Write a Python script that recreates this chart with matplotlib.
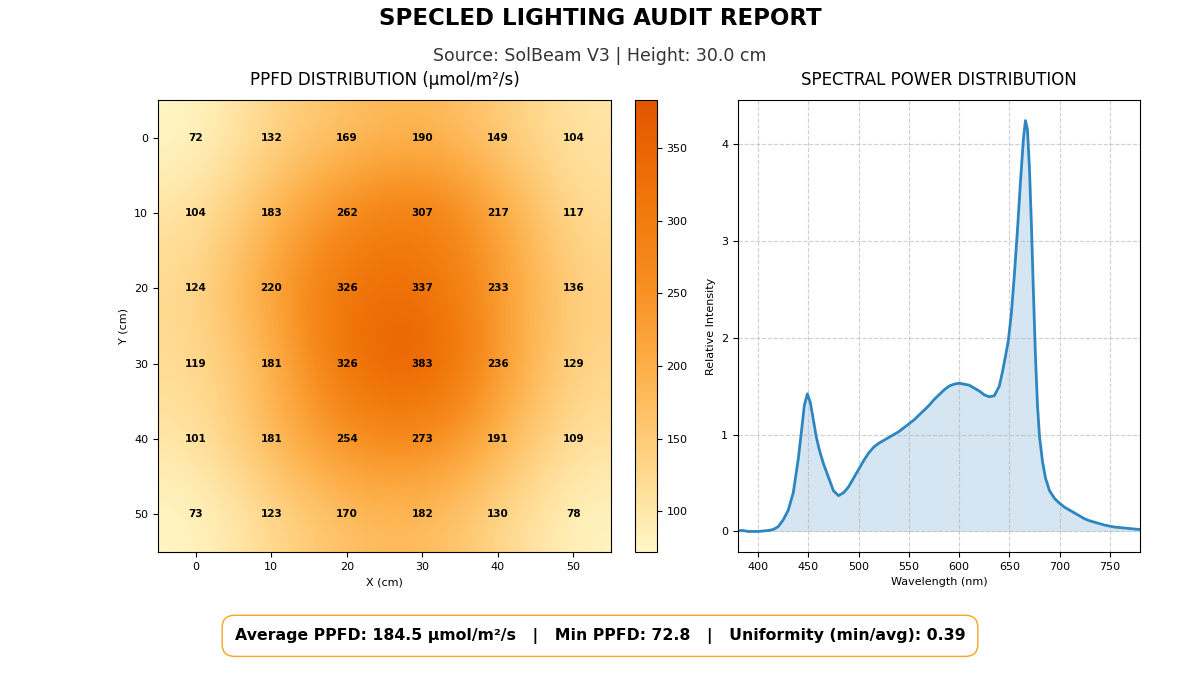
import numpy as np
import matplotlib
matplotlib.use("Agg")
import matplotlib.pyplot as plt
from matplotlib.colors import LinearSegmentedColormap

# ---------------- data ----------------
x_positions = [0, 10, 20, 30, 40, 50]
y_positions = [0, 10, 20, 30, 40, 50]
ppfd_grid = [
    [72, 132, 169, 190, 149, 104],
    [104, 183, 262, 307, 217, 117],
    [124, 220, 326, 337, 233, 136],
    [119, 181, 326, 383, 236, 129],
    [101, 181, 254, 273, 191, 109],
    [73, 123, 170, 182, 130, 78],
]
avg_ppfd = 184.5
min_ppfd = 72.8
uniformity = 0.39

wavelengths = [380, 385, 390, 395, 400, 405, 410, 415, 420, 425, 430, 435, 440, 443, 446,
               449, 452, 455, 458, 461, 465, 470, 475, 480, 485, 490, 495, 500, 505, 510,
               515, 520, 525, 530, 535, 540, 545, 550, 555, 560, 565, 570, 575, 580, 585,
               590, 595, 600, 605, 610, 615, 620, 625, 630, 635, 640, 643, 646, 649, 652,
               655, 658, 661, 664, 666, 668, 670, 672, 674, 676, 678, 680, 683, 686, 690,
               695, 700, 705, 710, 715, 720, 725, 730, 735, 740, 745, 750, 755, 760, 765,
               770, 775, 780]
intensity = [0.01, 0.01, 0.0, 0.0, 0.0, 0.005, 0.01, 0.02, 0.05, 0.12, 0.22, 0.40, 0.75, 1.02, 1.30,
             1.42, 1.33, 1.15, 0.97, 0.84, 0.70, 0.56, 0.42, 0.37, 0.40, 0.46, 0.55, 0.64, 0.73, 0.81,
             0.87, 0.91, 0.94, 0.97, 1.00, 1.03, 1.07, 1.11, 1.15, 1.20, 1.25, 1.30, 1.36, 1.41, 1.46,
             1.50, 1.52, 1.53, 1.52, 1.51, 1.48, 1.45, 1.41, 1.39, 1.40, 1.50, 1.64, 1.80, 1.97, 2.25,
             2.65, 3.10, 3.60, 4.05, 4.24, 4.15, 3.75, 3.15, 2.45, 1.80, 1.30, 0.98, 0.72, 0.55, 0.42,
             0.34, 0.29, 0.25, 0.22, 0.19, 0.16, 0.13, 0.11, 0.095, 0.08, 0.065, 0.055, 0.045, 0.04, 0.035,
             0.03, 0.025, 0.02]

# ---------------- figure ----------------
fig = plt.figure(figsize=(12, 6.75), dpi=100)

fig.text(0.5, 0.972, "SPECLED LIGHTING AUDIT REPORT", ha="center", va="center",
         fontsize=16.5, fontweight="bold")
fig.text(0.5, 0.917, "Source: SolBeam V3 | Height: 30.0 cm", ha="center", va="center",
         fontsize=12.5, color="#333333")

cmap = LinearSegmentedColormap.from_list(
    "ppfd", ["#fff7c6", "#ffd486", "#fdb04a", "#f78d1e", "#ef7308", "#e35500"])

ax1 = fig.add_axes([0.1317, 0.1822, 0.3775, 0.6696])
cax = fig.add_axes([0.529, 0.1822, 0.0183, 0.6696])
ax2 = fig.add_axes([0.615, 0.1822, 0.335, 0.6696])

data = np.array(ppfd_grid, dtype=float)
im = ax1.imshow(data, cmap=cmap, interpolation="bicubic",
                extent=[x_positions[0] - 5, x_positions[-1] + 5, y_positions[-1] + 5, y_positions[0] - 5],
                aspect="auto")
for i, yv in enumerate(y_positions):
    for j, xv in enumerate(x_positions):
        ax1.text(xv, yv, f"{ppfd_grid[i][j]}", ha="center", va="center",
                 fontsize=7.5, fontweight="bold", color="black")
ax1.set_xticks(x_positions)
ax1.set_yticks(y_positions)
ax1.tick_params(labelsize=8)
ax1.set_xlabel("X (cm)", fontsize=8)
ax1.set_ylabel("Y (cm)", fontsize=8)
ax1.set_title("PPFD DISTRIBUTION (µmol/m²/s)", fontsize=12, pad=11)

cb = fig.colorbar(im, cax=cax)
cb.set_ticks([100, 150, 200, 250, 300, 350])
cb.ax.tick_params(labelsize=8)

ax2.plot(wavelengths, intensity, color="#2e86c1", linewidth=2)
ax2.fill_between(wavelengths, intensity, 0, color="#2e86c1", alpha=0.2, linewidth=0)
ax2.set_xlim(380, 780)
ax2.grid(True, linestyle="--", alpha=0.6)
ax2.tick_params(labelsize=8)
ax2.set_xlabel("Wavelength (nm)", fontsize=8)
ax2.set_ylabel("Relative Intensity", fontsize=8)
ax2.set_title("SPECTRAL POWER DISTRIBUTION", fontsize=12, pad=11)

summary = (f"Average PPFD: {avg_ppfd:.1f} µmol/m²/s   |   Min PPFD: {min_ppfd:.1f}   |   "
           f"Uniformity (min/avg): {uniformity:.2f}")
fig.text(0.5, 0.058, summary, ha="center", va="center", fontsize=11.3, fontweight="bold",
         bbox=dict(boxstyle="round,pad=0.8", facecolor="white", edgecolor="#f5a623", linewidth=1))

fig.savefig("out.png", dpi=100)
